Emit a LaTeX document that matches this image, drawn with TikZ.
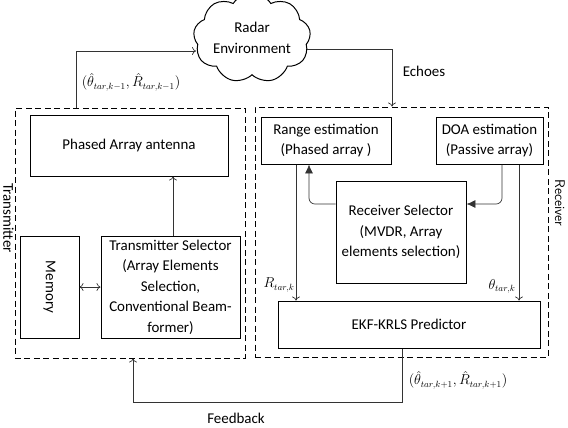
\documentclass[tikz,border=0pt]{standalone}
\usepackage{fontspec}
\setmainfont{Carlito}
\usetikzlibrary{shapes.symbols,arrows.meta}
\newcommand\fsz{\fontsize{15}{20.6}\selectfont}
\newcommand\msz{\fontsize{13.5}{15}\selectfont}
\begin{document}
\begin{tikzpicture}[x=1bp,y=-1bp,
  box/.style={draw, line width=1pt, inner sep=0pt, align=center, font=\fsz},
  group/.style={draw, line width=1pt, dash pattern=on 6bp off 3.5bp, inner sep=0pt},
  conn/.style={draw=black!80, line width=0.7pt, -{To[length=4pt,width=8pt]}},
  fill arrow/.style={draw=black!80, line width=0.7pt, rounded corners=6pt, -{Latex[length=9pt,width=8pt]}},
  lbl/.style={font=\fsz, inner sep=0pt},
  mlbl/.style={font=\msz, inner sep=0pt}]
\useasboundingbox (0,0) rectangle (568,427);

% groups
\node[group, minimum width=230bp, minimum height=250bp] (tx) at (130,233) {};
\node[group, minimum width=293bp, minimum height=250bp] (rx) at (401.5,232) {};

% cloud
\node[cloud, cloud puffs=9, cloud puff arc=115, draw, line width=1pt, aspect=1.5,
      minimum width=111bp, minimum height=72bp, inner sep=0pt, align=center,
      font=\fsz] (env) at (252,38) {Radar\\Environment};

% boxes
\node[box, minimum width=198bp, minimum height=61bp] (paa) at (129,145.5) {Phased Array antenna};
\node[box, minimum width=59bp, minimum height=102bp] (mem) at (49.5,287) {};
\node[lbl, rotate=-90] at (mem) {Memory};
\node[box, minimum width=139bp, minimum height=102bp] (tsel) at (170.5,287)
  {Transmitter Selector\\(Array Elements\\Selection,\\Conventional Beam-\\former)};
\node[box, minimum width=130bp, minimum height=47bp] (range) at (326,140.5) {Range estimation\\(Phased array )};
\node[box, minimum width=107bp, minimum height=47bp] (doa) at (489.5,140.5) {DOA estimation\\(Passive array)};
\node[box, minimum width=130bp, minimum height=102bp] (rsel) at (401,232)
  {Receiver Selector\\(MVDR, Array\\elements selection)};
\node[box, minimum width=262bp, minimum height=47bp] (ekf) at (409,324.5) {EKF-KRLS Predictor};

% side labels
\node[lbl, rotate=-90] (txl) at (8.5,218) {Transmitter};
\node[font=\fontsize{14}{16}\selectfont\sffamily, inner sep=0pt, rotate=-90] (rxl) at (560,203) {Receiver};

% coordinates
\coordinate (outx) at (76,51);
\coordinate (envin) at (196,51);
\coordinate (envout) at (307,49);
\coordinate (echx) at (392,49);
\coordinate (rselL) at (309,204);
\coordinate (doaX) at (502,204);
\coordinate (rX) at (296,0);
\coordinate (tX) at (519,0);
\coordinate (sX) at (173,0);
\coordinate (fbx) at (402,402);
\coordinate (fbc) at (133,402);

% connectors
\draw[conn] (tx.north -| outx) -- (outx) -- (envin);
\draw[conn] (envout) -- (echx) -- (rx.north -| echx);
\draw[conn] (tsel.north -| sX) -- (paa.south -| sX);
\draw[draw=black!80, line width=0.7pt, {To[length=4pt,width=8pt]}-{To[length=4pt,width=8pt]}] (mem.east) -- (tsel.west);
\draw[fill arrow] (rsel.west |- rselL) -| (range.south -| rselL);
\draw[fill arrow] (doa.south -| doaX) |- (rsel.east |- doaX);
\draw[conn] (range.south -| rX) -- (ekf.north -| rX);
\draw[conn] (doa.south -| tX) -- (ekf.north -| tX);
\draw[conn] (ekf.south -| fbx) -- (fbx) -- (fbc) -- (tx.south -| fbc);

% labels
\node[mlbl] at (131,82) {$\bigl(\hat{\theta}_{tar,k-1},\hat{R}_{tar,k-1}\bigr)$};
\node[lbl] at (424,71) {Echoes};
\node[mlbl] at (279,285) {$R_{tar,k}$};
\node[mlbl] at (502,286) {$\theta_{tar,k}$};
\node[mlbl] at (458,380) {$\Bigl(\hat{\theta}_{tar,k+1},\hat{R}_{tar,k+1}\Bigr)$};
\node[lbl] at (236,418) {Feedback};
\end{tikzpicture}
\end{document}
